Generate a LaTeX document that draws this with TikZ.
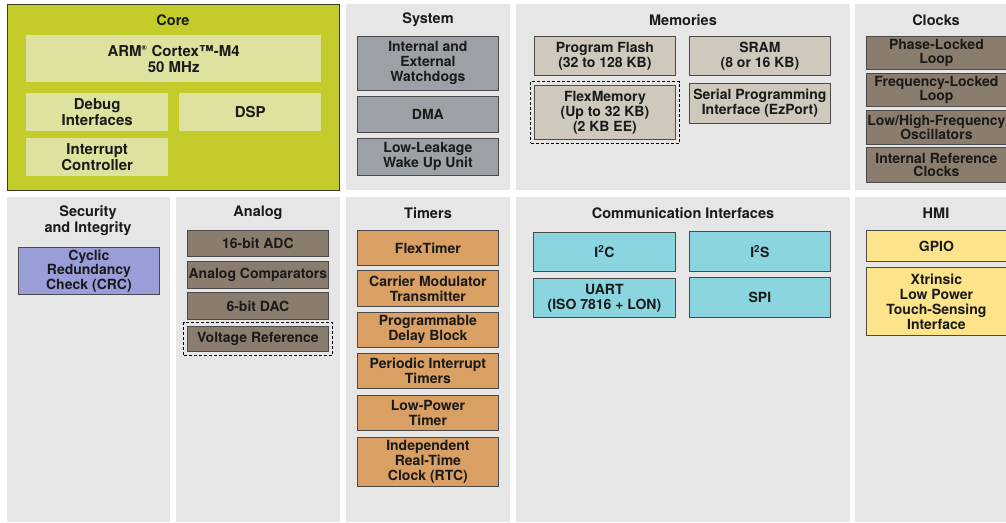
\documentclass[tikz,border=0pt]{standalone}
\usepackage{fontspec}
\setmainfont{TeX Gyre Heros}
\usetikzlibrary{fit}
\definecolor{panelgray}{HTML}{E6E6E6}
\definecolor{txt}{HTML}{1A1A1A}
\definecolor{blkline}{HTML}{4A4A4A}
\definecolor{corefill}{HTML}{C4CC2C}
\definecolor{coreline}{HTML}{3A3A20}
\definecolor{coreinner}{HTML}{DEE29E}
\definecolor{sysfill}{HTML}{9BA1A7}
\definecolor{memfill}{HTML}{CFC8BD}
\definecolor{brownfill}{HTML}{8B7D6E}
\definecolor{crcfill}{HTML}{9A9ED8}
\definecolor{tmrfill}{HTML}{D99F63}
\definecolor{comfill}{HTML}{8AD5DF}
\definecolor{hmifill}{HTML}{FDE48A}

\begin{document}
\begin{tikzpicture}[x=1pt,y=-1pt,every text node part/.style={align=center},
font=\fontsize{14}{15}\selectfont\bfseries,
panel/.style={fill=panelgray,anchor=north west,inner sep=0pt},
title/.style={text=txt,font=\fontsize{14.5}{16}\selectfont\bfseries},
blk/.style={draw=blkline,line width=0.8pt,anchor=north west,inner sep=0pt,text=txt,minimum width=141pt},
coreblk/.style={fill=coreinner,anchor=north west,inner sep=0pt,text=txt,minimum width=142pt,minimum height=38pt,font=\fontsize{15}{16}\selectfont\bfseries},
sysblk/.style={blk,fill=sysfill},
memblk/.style={blk,fill=memfill},
clkblk/.style={blk,fill=brownfill,minimum width=140pt,font=\fontsize{14}{13.5}\selectfont\bfseries},
anablk/.style={blk,fill=brownfill},
tmrblk/.style={blk,fill=tmrfill},
comblk/.style={blk,fill=comfill},
hmiblk/.style={blk,fill=hmifill,minimum width=140pt},
dashframe/.style={draw=black,line width=0.8pt,dash pattern=on 3pt off 2pt,inner sep=3.5pt}]
\useasboundingbox[fill=white] (0,0) rectangle (1006,522);
\node[panel,fill=corefill,draw=coreline,line width=1.2pt,minimum width=332pt,minimum height=186pt] (core) at (7,4) {};
\node[panel,minimum width=164pt,minimum height=186pt] (system) at (346,4) {};
\node[panel,minimum width=334pt,minimum height=186pt] (memories) at (516,4) {};
\node[panel,minimum width=151pt,minimum height=186pt] (clocks) at (855,4) {};
\node[panel,minimum width=163pt,minimum height=325pt] (security) at (7,197) {};
\node[panel,minimum width=164pt,minimum height=325pt] (analog) at (176,197) {};
\node[panel,minimum width=164pt,minimum height=325pt] (timers) at (346,197) {};
\node[panel,minimum width=334pt,minimum height=325pt] (comm) at (516,197) {};
\node[panel,minimum width=151pt,minimum height=325pt] (hmi) at (855,197) {};
\node[title] (coretitle) at (173,20) {Core};
\node[title] (systitle) at (428,20) {System};
\node[title] (memtitle) at (683,20) {Memories};
\node[title] (clktitle) at (936,20) {Clocks};
\node[title] (sectitle) at (88,221) {Security\\and Integrity};
\node[title] (anatitle) at (258,213) {Analog};
\node[title] (tmrtitle) at (428,213) {Timers};
\node[title] (comtitle) at (683,213) {Communication Interfaces};
\node[title] (hmititle) at (936,213) {HMI};
\node[coreblk,minimum width=295pt,minimum height=47pt] (arm) at (26,35) {ARM\textsuperscript{\scriptsize\textregistered} Cortex™-M4\\50 MHz};
\node[coreblk] (debug) at (26,93) {Debug\\Interfaces};
\node[coreblk] (dsp) at (179,93) {DSP};
\node[coreblk] (nvic) at (26,138) {Interrupt\\Controller};
\node[sysblk,minimum height=54pt] (wdog) at (357,36) {Internal and\\External\\Watchdogs};
\node[sysblk,minimum height=36pt] (dma) at (357,96) {DMA};
\node[sysblk,minimum height=37pt] (llwu) at (357,138) {Low-Leakage\\Wake Up Unit};
\node[memblk,minimum height=39pt] (flash) at (534,36) {Program Flash\\(32 to 128 KB)};
\node[memblk,minimum height=39pt] (sram) at (689,36) {SRAM\\(8 or 16 KB)};
\node[memblk,minimum height=54pt] (flexmem) at (534,85) {FlexMemory\\(Up to 32 KB)\\(2 KB EE)};
\node[memblk,minimum height=40pt] (ezport) at (689,83) {Serial Programming\\Interface (EzPort)};
\node[dashframe,fit=(flexmem)] (flexframe) {};
\node[clkblk,minimum height=33pt] (pll) at (866,36) {Phase-Locked\\Loop};
\node[clkblk,minimum height=33pt] (fll) at (866,73) {Frequency-Locked\\Loop};
\node[clkblk,minimum height=34pt] (osc) at (866,110) {Low/High-Frequency\\Oscillators};
\node[clkblk,minimum height=35pt] (irc) at (866,147) {Internal Reference\\Clocks};
\node[blk,fill=crcfill,minimum height=47pt,font=\fontsize{14}{12.5}\selectfont\bfseries] (crc) at (18,247) {Cyclic\\Redundancy\\Check (CRC)};
\node[anablk,minimum height=26pt] (adc) at (187,230) {16-bit ADC};
\node[anablk,minimum height=27pt] (cmp) at (187,261) {Analog Comparators};
\node[anablk,minimum height=27pt] (dac) at (187,292) {6-bit DAC};
\node[anablk,minimum height=25pt] (vref) at (187,326) {Voltage Reference};
\node[dashframe,fit=(vref)] (vrefframe) {};
\node[tmrblk,minimum height=35pt] (ftm) at (357,230) {FlexTimer};
\node[tmrblk,minimum height=36pt] (cmt) at (357,270) {Carrier Modulator\\Transmitter};
\node[tmrblk,minimum height=35pt] (pdb) at (357,312) {Programmable\\Delay Block};
\node[tmrblk,minimum height=35pt] (pit) at (357,353) {Periodic Interrupt\\Timers};
\node[tmrblk,minimum height=35pt] (lptmr) at (357,395) {Low-Power\\Timer};
\node[tmrblk,minimum height=49pt] (rtc) at (357,437) {Independent\\Real-Time\\Clock (RTC)};
\node[comblk,minimum width=142pt,minimum height=39pt] (i2c) at (533,232) {I\textsuperscript{2}C};
\node[comblk,minimum height=40pt] (i2s) at (689,231) {I\textsuperscript{2}S};
\node[comblk,minimum width=142pt,minimum height=39pt] (uart) at (533,278) {UART\\(ISO 7816 + LON)};
\node[comblk,minimum height=40pt] (spi) at (689,277) {SPI};
\node[hmiblk,minimum height=31pt] (gpio) at (866,230) {GPIO};
\node[hmiblk,minimum height=68pt] (tsi) at (866,267) {Xtrinsic\\Low Power\\Touch-Sensing\\Interface};
\end{tikzpicture}
\end{document}
